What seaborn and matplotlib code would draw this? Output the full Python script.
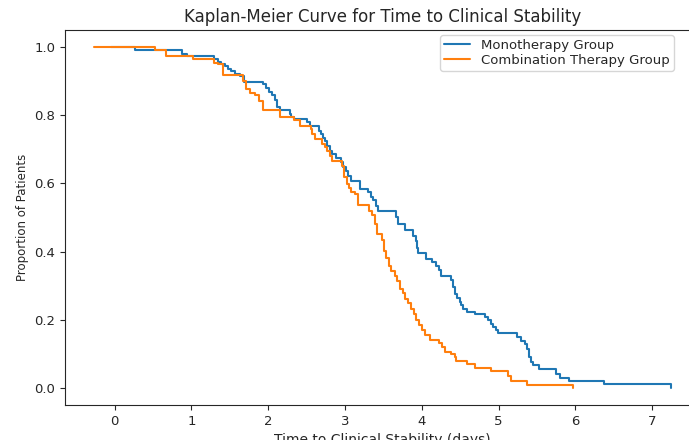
import matplotlib
matplotlib.use("Agg")
import matplotlib.pyplot as plt
import seaborn as sns
import pandas as pd

# Kaplan-Meier step points (time in days, proportion remaining)
mono_time = [-0.05, 0.265, 0.88, 0.937, 1.297, 1.349, 1.392, 1.435, 1.479, 1.522,
             1.574, 1.639, 1.687, 1.926, 1.965, 2.009, 2.052, 2.087, 2.121, 2.151,
             2.281, 2.303, 2.338, 2.511, 2.541, 2.658, 2.684, 2.710, 2.737, 2.771,
             2.801, 2.832, 2.888, 2.953, 2.975, 3.018, 3.040, 3.075, 3.201, 3.300,
             3.335, 3.366, 3.400, 3.431, 3.665, 3.695, 3.777, 3.890, 3.920, 3.935,
             3.951, 4.059, 4.137, 4.189, 4.219, 4.254, 4.385, 4.410, 4.428, 4.463,
             4.493, 4.515, 4.541, 4.584, 4.697, 4.827, 4.862, 4.896, 4.927, 4.961,
             4.992, 5.235, 5.287, 5.339, 5.369, 5.400, 5.426, 5.447, 5.526, 5.751,
             5.794, 5.916, 6.367, 7.247]
mono_surv = [1.0, 0.99, 0.98, 0.975, 0.965, 0.957, 0.951, 0.944, 0.937, 0.930,
             0.922, 0.915, 0.898, 0.891, 0.879, 0.869, 0.860, 0.845, 0.823, 0.815,
             0.803, 0.796, 0.788, 0.779, 0.769, 0.754, 0.745, 0.733, 0.723, 0.711,
             0.696, 0.686, 0.674, 0.662, 0.647, 0.637, 0.623, 0.608, 0.584, 0.575,
             0.560, 0.550, 0.535, 0.518, 0.500, 0.480, 0.462, 0.445, 0.430, 0.410,
             0.396, 0.379, 0.370, 0.357, 0.345, 0.328, 0.316, 0.296, 0.275, 0.265,
             0.252, 0.243, 0.231, 0.223, 0.218, 0.209, 0.199, 0.189, 0.179, 0.170,
             0.162, 0.150, 0.138, 0.129, 0.114, 0.092, 0.077, 0.067, 0.055, 0.040,
             0.028, 0.021, 0.012, 0.0]

combo_time = [-0.27, 0.525, 0.668, 1.024, 1.297, 1.349, 1.414, 1.674, 1.709, 1.761,
              1.826, 1.878, 1.935, 2.151, 2.340, 2.411, 2.554, 2.576, 2.606, 2.706,
              2.737, 2.771, 2.806, 2.836, 2.966, 2.988, 3.023, 3.053, 3.083, 3.127,
              3.170, 3.309, 3.353, 3.387, 3.418, 3.483, 3.509, 3.539, 3.569, 3.604,
              3.647, 3.682, 3.713, 3.756, 3.777, 3.821, 3.864, 3.899, 3.929, 3.960,
              4.003, 4.047, 4.103, 4.220, 4.264, 4.298, 4.385, 4.428, 4.450, 4.589,
              4.688, 4.905, 5.122, 5.157, 5.369, 5.968]
combo_surv = [1.0, 0.99, 0.975, 0.965, 0.954, 0.949, 0.918, 0.901, 0.876, 0.866,
              0.860, 0.842, 0.816, 0.796, 0.786, 0.769, 0.759, 0.745, 0.730, 0.715,
              0.706, 0.694, 0.681, 0.667, 0.652, 0.618, 0.598, 0.587, 0.574, 0.569,
              0.538, 0.520, 0.506, 0.481, 0.452, 0.433, 0.403, 0.382, 0.357, 0.343,
              0.328, 0.314, 0.291, 0.280, 0.262, 0.248, 0.233, 0.216, 0.199, 0.184,
              0.170, 0.155, 0.142, 0.131, 0.121, 0.106, 0.099, 0.090, 0.078, 0.070,
              0.058, 0.051, 0.036, 0.021, 0.010, 0.0]

mono = pd.DataFrame({"time": mono_time, "surv": mono_surv})
combo = pd.DataFrame({"time": combo_time, "surv": combo_surv})

sns.set_style("ticks")
plt.rcParams["font.family"] = ["DejaVu Sans"]

fig = plt.figure(figsize=(6.89, 4.40), dpi=100)
# the reference is cropped: right spine and bottom of the x label fall outside
ax = fig.add_axes([65 / 689, 35 / 440, 635 / 689, 375 / 440])

sns.lineplot(data=mono, x="time", y="surv", drawstyle="steps-post", estimator=None,
             sort=False, color="tab:blue", linewidth=1.5, label="Monotherapy Group", ax=ax)
sns.lineplot(data=combo, x="time", y="surv", drawstyle="steps-post", estimator=None,
             sort=False, color="tab:orange", linewidth=1.5, label="Combination Therapy Group", ax=ax)

ax.set_title("Kaplan-Meier Curve for Time to Clinical Stability", fontsize=12)
ax.set_xlabel("Time to Clinical Stability (days)", fontsize=10)
ax.set_ylabel("Proportion of Patients", fontsize=8.5)
ax.tick_params(labelsize=9.5)
ax.legend(loc="upper left", bbox_to_anchor=(440 / 689, 1 - 35 / 440),
          bbox_transform=fig.transFigure, borderaxespad=0, fontsize=9.5,
          frameon=True, labelspacing=0.15, borderpad=0.3)

fig.savefig("out.png", dpi=100)
